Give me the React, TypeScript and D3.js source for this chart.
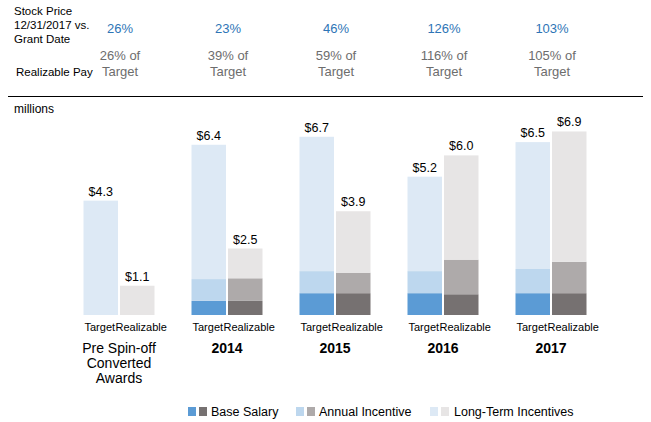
import React from "react";
import * as d3 from "d3";

const groups = ["Pre Spin-off\nConverted\nAwards", "2014", "2015", "2016", "2017"];
const stockPct = ["26%", "23%", "46%", "126%", "103%"];
const realizablePct = ["26% of\nTarget", "39% of\nTarget", "59% of\nTarget", "116% of\nTarget", "105% of\nTarget"];
const targetBase = [0, 0.53, 0.82, 0.82, 0.82];
const targetAnnual = [0, 0.82, 0.83, 0.83, 0.91];
const targetLTI = [4.3, 5.05, 5.05, 3.55, 4.77];
const realBase = [0, 0.53, 0.82, 0.78, 0.82];
const realAnnual = [0, 0.85, 0.77, 1.3, 1.18];
const realLTI = [1.1, 1.12, 2.31, 3.92, 4.9];
const targetTotal = ["$4.3", "$6.4", "$6.7", "$5.2", "$6.5"];
const realTotal = ["$1.1", "$2.5", "$3.9", "$6.0", "$6.9"];

const tColors = ["#5b9bd5", "#bdd7ee", "#dde9f5"];
const rColors = ["#767171", "#aeaaaa", "#e7e5e5"];
const font = "Arial, 'Liberation Sans', sans-serif";

export default function App() {
  const x0 = d3.scaleBand().domain(groups).range([65, 605]).paddingInner(0).paddingOuter(0);
  const y = d3.scaleLinear().domain([0, 7]).range([315, 128.8]);
  const bw = 34.5;
  const centers = groups.map((g) => x0(g)! + x0.bandwidth() / 2);

  const stack = (vals: number[][], colors: string[], xx: number, key: string) => {
    let acc = 0;
    return vals.map((v, i) => {
      const y0 = acc;
      acc += v[0];
      return <rect key={key + i} x={xx} width={bw} y={y(acc)} height={y(y0) - y(acc)} fill={colors[i]} />;
    });
  };

  return (
    <svg width={651} height={422} style={{ position: "absolute", left: 0, top: 0, fontFamily: font }}>
      <rect width={651} height={422} fill="#fff" />
      <text x={14} y={15} fontSize={11.5} fill="#000">Stock Price</text>
      <text x={14} y={29} fontSize={11.5} fill="#000">12/31/2017 vs.</text>
      <text x={14} y={43} fontSize={11.5} fill="#000">Grant Date</text>
      <text x={16} y={76} fontSize={11.5} fill="#000">Realizable Pay</text>
      {centers.map((c, i) => (
        <g key={"hd" + i}>
          <text x={c + 1} y={33} fontSize={13} fill="#2e75b6" textAnchor="middle">{stockPct[i]}</text>
          {realizablePct[i].split("\n").map((l, j) => (
            <text key={j} x={c + 1} y={60 + j * 16} fontSize={13} fill="#6d6d6d" textAnchor="middle">{l}</text>
          ))}
        </g>
      ))}
      <line x1={8} x2={643} y1={96.5} y2={96.5} stroke="#000" strokeWidth={1} />
      <text x={14} y={113} fontSize={12} fill="#000">millions</text>
      {groups.map((g, i) => {
        const xt = centers[i] - bw - 1;
        const xr = centers[i] + 1;
        const tt = targetBase[i] + targetAnnual[i] + targetLTI[i];
        const rt = realBase[i] + realAnnual[i] + realLTI[i];
        return (
          <g key={g}>
            {stack([[targetBase[i]], [targetAnnual[i]], [targetLTI[i]]], tColors, xt, "t")}
            {stack([[realBase[i]], [realAnnual[i]], [realLTI[i]]], rColors, xr, "r")}
            <text x={xt + bw / 2} y={y(tt) - 5} fontSize={12.5} textAnchor="middle">{targetTotal[i]}</text>
            <text x={xr + bw / 2} y={y(rt) - 5} fontSize={12.5} textAnchor="middle">{realTotal[i]}</text>
            <text x={xt + 1} y={331} fontSize={11}>Target</text>
            <text x={xt + 32} y={331} fontSize={11}>Realizable</text>
            {g.split("\n").map((l, j) => (
              <text key={j} x={centers[i]} y={353 + j * 15} fontSize={14} fontWeight={i === 0 ? 400 : 600} textAnchor="middle">{l}</text>
            ))}
          </g>
        );
      })}
      <g fontSize={12.5}>
        <rect x={188} y={407} width={8} height={9} fill={tColors[0]} />
        <rect x={199} y={407} width={8} height={9} fill={rColors[0]} />
        <text x={211} y={416}>Base Salary</text>
        <rect x={296} y={407} width={8} height={9} fill={tColors[1]} />
        <rect x={307} y={407} width={8} height={9} fill={rColors[1]} />
        <text x={319} y={416}>Annual Incentive</text>
        <rect x={430} y={407} width={8} height={9} fill={tColors[2]} />
        <rect x={441} y={407} width={8} height={9} fill={rColors[2]} />
        <text x={454} y={416}>Long-Term Incentives</text>
      </g>
    </svg>
  );
}
